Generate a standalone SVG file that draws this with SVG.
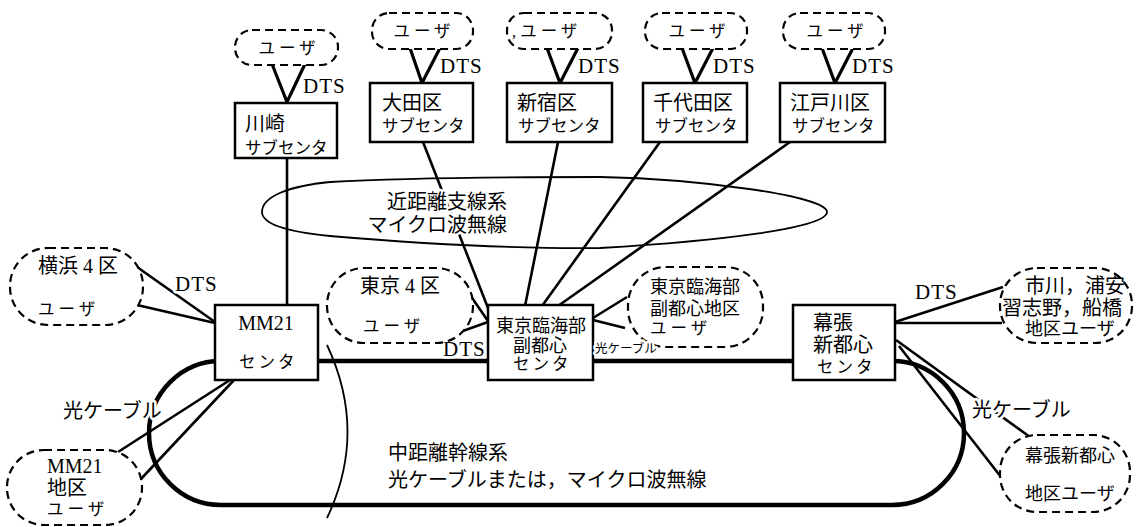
<svg xmlns="http://www.w3.org/2000/svg" width="1136" height="527" viewBox="0 0 1136 527">
<style>
text{font-family:"Liberation Serif","Noto Sans CJK JP",serif;fill:#000;}
.box{fill:#fff;stroke:#000;stroke-width:2.5;}
.pill{fill:#fff;stroke:#000;stroke-width:2.2;stroke-dasharray:8 5;}
.ln{fill:none;stroke:#000;stroke-width:2.6;}
.v{fill:none;stroke:#000;stroke-width:3.2;stroke-linejoin:miter;}
.ring{fill:none;stroke:#000;stroke-width:4.5;}
.thin{fill:none;stroke:#000;stroke-width:1.8;}
.halo{stroke:#fff;stroke-width:5;paint-order:stroke;stroke-linejoin:round;}
.f20{font-size:20px;}
.f18{font-size:18px;}
.f17{font-size:17px;}
.f16{font-size:16.5px;}
.sm{font-size:16.5px;letter-spacing:4px;}
.dts{font-size:21px;letter-spacing:1px;}
</style>
<rect width="1136" height="527" fill="#fff"/>
<g id="connectors">
  <path class="ring" d="M221,361 L892,361 A72,72 0 0 1 892,505 L221,505 A72,72 0 0 1 221,361 Z"/>
  <path class="thin" d="M327,345 Q368,432 327,518"/>
  <path class="thin" d="M262,212 C262,196 290,186 330,182 C400,178 500,177 600,177 C700,179 827,196 827,212 C827,228 720,241 600,248 C500,249 400,242 330,236 C290,232 262,225 262,212 Z"/>
  <line class="ln" x1="287" y1="158" x2="287" y2="306"/>
  <line class="ln" x1="423" y1="142" x2="488" y2="308"/>
  <line class="ln" x1="558" y1="142" x2="525" y2="306"/>
  <line class="ln" x1="660" y1="142" x2="542" y2="306"/>
  <line class="ln" x1="790" y1="142" x2="558" y2="306"/>
  <polyline class="v" points="272,64 287,102 305,64"/>
  <polyline class="v" points="410,48 422,83 440,48"/>
  <polyline class="v" points="547,48 560,83 578,48"/>
  <polyline class="v" points="682,48 695,83 713,48"/>
  <polyline class="v" points="822,48 835,83 853,48"/>
  <line class="ln" x1="137" y1="267" x2="215" y2="322"/>
  <line class="ln" x1="137" y1="305" x2="215" y2="323"/>
  <line class="ln" x1="230" y1="380" x2="118" y2="452"/>
  <line class="ln" x1="234" y1="380" x2="140" y2="480"/>
  <line class="ln" x1="470" y1="295" x2="488" y2="321"/>
  <line class="ln" x1="460" y1="332" x2="488" y2="322"/>
  <line class="ln" x1="627" y1="297" x2="593" y2="318"/>
  <line class="ln" x1="625" y1="328" x2="593" y2="320"/>
  <line class="ln" x1="895" y1="322" x2="1003" y2="287"/>
  <line class="ln" x1="895" y1="323" x2="1002" y2="323"/>
  <line class="ln" x1="896" y1="340" x2="1030" y2="437"/>
  <line class="ln" x1="899" y1="346" x2="1001" y2="477"/>
</g>
<g id="labels">
  <text class="dts halo" x="303" y="93">DTS</text>
  <text class="dts halo" x="440" y="73">DTS</text>
  <text class="dts halo" x="578" y="73">DTS</text>
  <text class="dts halo" x="713" y="73">DTS</text>
  <text class="dts halo" x="852" y="73">DTS</text>
  <text class="dts halo" x="175" y="291">DTS</text>
  <text class="dts halo" x="443" y="356">DTS</text>
  <text class="dts halo" x="915" y="299">DTS</text>
  <text class="f20 halo" x="507" y="209" text-anchor="end">近距離支線系</text>
  <text class="f20 halo" x="507" y="232" text-anchor="end">マイクロ波無線</text>
  <text class="f20 halo" x="63" y="418">光ケーブル</text>
  <text class="f20 halo" x="972" y="417">光ケーブル</text>
  <text class="f20" x="388" y="460">中距離幹線系</text>
  <text class="f20" x="388" y="487">光ケーブルまたは，マイクロ波無線</text>
</g>
<g id="user-kawasaki"><rect class="pill" x="235" y="30" width="103" height="35" rx="17"/><text class="sm" x="289" y="54" text-anchor="middle">ユーザ</text></g>
<g id="user-ota"><rect class="pill" x="372" y="13" width="101" height="36" rx="17"/><text class="sm" x="424" y="37" text-anchor="middle">ユーザ</text></g>
<g id="user-shinjuku"><rect class="pill" x="507" y="13" width="105" height="36" rx="17"/><text class="sm" x="512" y="37">,ユーザ</text></g>
<g id="user-chiyoda"><rect class="pill" x="645" y="13" width="102" height="36" rx="17"/><text class="sm" x="699" y="37" text-anchor="middle">ユーザ</text></g>
<g id="user-edogawa"><rect class="pill" x="783" y="13" width="102" height="36" rx="17"/><text class="sm" x="837" y="37" text-anchor="middle">ユーザ</text></g>
<g id="sub-kawasaki"><rect class="box" x="235" y="103" width="102" height="55"/><text class="f20" x="245" y="131">川崎</text><text class="f16" x="245" y="154">サブセンタ</text></g>
<g id="sub-ota"><rect class="box" x="370" y="83" width="103" height="59"/><text class="f20" x="382" y="110">大田区</text><text class="f16" x="382" y="132">サブセンタ</text></g>
<g id="sub-shinjuku"><rect class="box" x="507" y="83" width="105" height="59"/><text class="f20" x="517" y="110">新宿区</text><text class="f16" x="518" y="132">サブセンタ</text></g>
<g id="sub-chiyoda"><rect class="box" x="643" y="83" width="104" height="59"/><text class="f20" x="653" y="110">千代田区</text><text class="f16" x="655" y="132">サブセンタ</text></g>
<g id="sub-edogawa"><rect class="box" x="780" y="83" width="105" height="59"/><text class="f20" x="790" y="110">江戸川区</text><text class="f16" x="792" y="132">サブセンタ</text></g>
<g id="user-yokohama"><rect class="pill" x="10" y="248" width="133" height="77" rx="38"/><text class="f20" x="38" y="273">横浜 4 区</text><text class="sm" x="38" y="315">ユーザ</text></g>
<g id="center-mm21"><rect class="box" x="215" y="305" width="103" height="75"/><text class="f20" x="266" y="330" text-anchor="middle">MM21</text><text class="f16" x="239" y="368" style="letter-spacing:3px">センタ</text></g>
<g id="user-tokyo4"><rect class="pill" x="327" y="268" width="146" height="75" rx="37"/><text class="f20" x="360" y="293">東京 4 区</text><text class="sm" x="363" y="332">ユーザ</text></g>
<g id="center-tokyo"><rect class="box" x="488" y="305" width="105" height="75"/><text class="f18" x="541" y="332" text-anchor="middle">東京臨海部</text><text class="f18" x="540" y="352" text-anchor="middle">副都心</text><text class="f16" x="513" y="370" style="letter-spacing:3px">センタ</text></g>
<g id="user-tokyo-district"><rect class="pill" x="628" y="267" width="135" height="80" rx="38"/><text class="f18" x="650" y="293">東京臨海部</text><text class="f18" x="650" y="315">副都心地区</text><text class="sm" x="650" y="334">ユーザ</text></g>
<text class="halo" x="595" y="353" style="font-size:12.5px">光ケーブル</text>
<g id="center-makuhari"><rect class="box" x="793" y="305" width="102" height="75"/><text class="f20" x="813" y="330">幕張</text><text class="f20" x="813" y="352">新都心</text><text class="f16" x="817" y="373" style="letter-spacing:3px">センタ</text></g>
<g id="user-ichikawa"><rect class="pill" x="1000" y="268" width="132" height="75" rx="37"/><text class="f20" x="1025" y="293">市川，浦安</text><text class="f20" x="1002" y="315">習志野，船橋</text><text class="f18" x="1025" y="335">地区ユーザ</text></g>
<g id="user-mm21"><rect class="pill" x="7" y="450" width="135" height="75" rx="37"/><text class="f20" x="47" y="473">MM21</text><text class="f20" x="47" y="495">地区</text><text class="sm" x="47" y="515">ユーザ</text></g>
<g id="user-makuhari"><rect class="pill" x="1000" y="435" width="130" height="77" rx="37"/><text class="f18" x="1025" y="462">幕張新都心</text><text class="f18" x="1025" y="500">地区ユーザ</text></g>
</svg>
